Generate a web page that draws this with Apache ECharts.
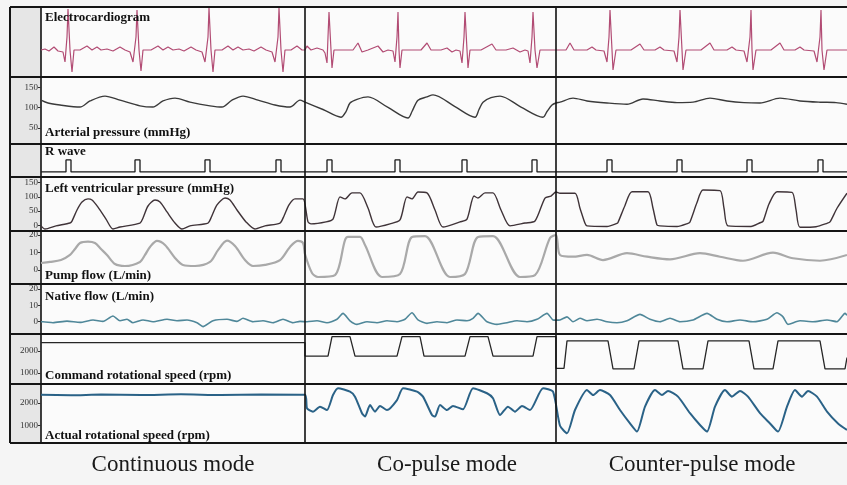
<!DOCTYPE html>
<html><head><meta charset="utf-8">
<script src="https://cdn.jsdelivr.net/npm/echarts@6/dist/echarts.min.js"></script>
<style>html,body{margin:0;padding:0;background:#f5f5f5}#c{width:847px;height:485px}</style>
</head><body><div id="c"></div>
<script>
// ---------- data (time t in sample units, 0..806) ----------
const modes = ['Continuous mode', 'Co-pulse mode', 'Counter-pulse mode'];
const modeBounds = [264, 515];
const tMax = 806;

const rowTitles = ['Electrocardiogram', 'Arterial pressure (mmHg)', 'R wave', 'Left ventricular pressure (mmHg)',
  'Pump flow (L/min)', 'Native flow (L/min)', 'Command rotational speed (rpm)', 'Actual rotational speed (rpm)'];

const apTicks = [50, 100, 150];
const lvpTicks = [0, 50, 100, 150];
const pumpTicks = [0, 10, 20];
const nativeTicks = [0, 10, 20];
const cmdTicks = [1000, 2000];
const actTicks = [1000, 2000];

const ecg = [[0,27],[4,28],[8,26],[13,30],[17,26],[22,25],[24,15],[26,40],[27,68],[29,27],[31,5],[33,27],[39,27],[46,31],[51,27],[56,30],[60,27],[66,28],[72,26],[79,30],[84,27],[89,25],[92,15],[95,40],[96,67],[98,27],[100,6],[102,27],[110,27],[117,31],[122,27],[127,30],[132,27],[138,28],[143,26],[150,30],[155,27],[161,25],[164,15],[167,40],[168,69],[170,27],[172,5],[174,27],[181,27],[187,31],[192,27],[197,30],[202,27],[208,28],[213,26],[220,30],[225,27],[231,25],[234,15],[237,40],[238,69],[240,27],[242,5],[244,27],[250,27],[256,31],[261,27],[264,27],
 [266,31],[270,27],[276,29],[282,27],[284,24],[286,14],[287,40],[288,65],[290,27],[291,9],[293,27],[305,27],[312,27],[317,34],[321,25],[327,27],[337,31],[342,25],[347,27],[352,26],[354,15],[356,40],[357,65],[358,27],[359,9],[361,27],[372,27],[380,27],[386,34],[390,27],[400,27],[406,29],[411,25],[415,27],[419,26],[421,14],[423,40],[424,65],[426,27],[427,9],[429,27],[440,27],[451,33],[455,27],[465,27],[472,29],[479,25],[484,27],[487,26],[489,14],[491,40],[492,65],[494,27],[496,9],[499,27],[510,27],[515,27],
 [522,27],[525,27],[529,34],[533,27],[546,27],[551,30],[555,27],[563,26],[566,15],[568,40],[569,67],[571,27],[572,7],[575,27],[590,27],[599,33],[603,27],[614,27],[619,30],[623,27],[633,26],[636,15],[638,40],[639,67],[641,27],[642,7],[645,27],[660,27],[669,34],[673,27],[686,27],[691,30],[695,27],[703,26],[706,15],[709,40],[710,67],[711,27],[712,7],[715,27],[730,27],[739,34],[743,27],[754,27],[759,30],[763,27],[773,26],[776,15],[779,40],[780,67],[781,27],[783,7],[786,27],[806,27]];

const arterial = [[0,118],[7,111],[19,106],[39,101],[49,116],[64,128],[79,118],[99,104],[112,101],[122,116],[134,123],[149,113],[169,104],[181,101],[191,118],[202,128],[217,118],[234,106],[249,101],[259,118],[264,113],
 [282,95],[300,76],[305,90],[309,111],[316,120],[327,126],[347,100],[367,74],[371,90],[377,118],[386,126],[392,131],[414,102],[434,76],[438,95],[442,113],[450,124],[459,128],[480,101],[502,76],[506,90],[511,106],[515,111],
 [519,113],[532,123],[546,116],[566,111],[586,108],[602,121],[619,116],[636,112],[652,113],[669,123],[686,116],[703,112],[719,111],[739,123],[759,116],[779,113],[795,112],[806,108]];

const rWave = [[0,0],[25,0],[25,1],[30,1],[30,0],[94,0],[94,1],[99,1],[99,0],[164,0],[164,1],[169,1],[169,0],[235,0],[235,1],[240,1],[240,0],[286,0],[286,1],[291,1],[291,0],[354,0],[354,1],[359,1],[359,0],[421,0],[421,1],[426,1],[426,0],[491,0],[491,1],[496,1],[496,0],[566,0],[566,1],[571,1],[571,0],[636,0],[636,1],[641,1],[641,0],[706,0],[706,1],[711,1],[711,0],[777,0],[777,1],[782,1],[782,0],[806,0]];

const lvPressure = [[0,-2],[4,-13],[15,-2],[29,8],[31,15],[36,54],[41,82],[47,93],[51,89],[57,64],[65,22],[72,-13],[79,-6],[99,8],[102,26],[107,68],[114,89],[119,82],[126,47],[134,8],[141,-13],[149,-2],[167,8],[170,26],[176,72],[184,96],[189,89],[196,54],[205,12],[214,-13],[224,-2],[239,8],[243,33],[248,72],[254,93],[262,93],
 [267,12],[270,5],[285,12],[292,22],[299,100],[304,93],[311,114],[319,114],[327,61],[335,-6],[349,5],[359,19],[366,100],[371,93],[377,117],[386,114],[394,54],[402,-6],[419,12],[426,22],[433,103],[437,96],[444,114],[452,114],[460,54],[469,-2],[484,8],[494,15],[504,96],[510,103],[515,117],
 [519,113],[534,113],[539,60],[544,7],[546,-2],[566,-4],[576,7],[577,10],[584,70],[591,118],[607,118],[612,60],[616,1],[619,-2],[636,-4],[647,7],[649,12],[656,80],[662,124],[679,122],[683,60],[687,-2],[710,-4],[719,9],[722,14],[728,75],[736,118],[751,116],[755,55],[759,-7],[775,-5],[786,7],[789,12],[796,60],[806,113]];

const pumpFlow = [[0,4.0],[9,4.6],[20,5.7],[29,8.6],[34,12],[39,15.4],[47,16.2],[54,15.4],[60,12],[66,8.6],[74,3.4],[84,2.3],[99,4.6],[104,8.6],[109,13.2],[116,16.6],[124,14.3],[134,6.9],[142,2.9],[154,2.3],[169,4.6],[177,11.4],[186,16.8],[194,13.7],[204,5.7],[212,2.3],[224,2.9],[239,5.7],[249,13.2],[257,16.6],[262,15.4],
 [264,9],[271,-1.7],[277,-4],[294,-2.9],[304,17.1],[307,18.9],[319,18.9],[324,14.3],[341,-4],[359,-2.3],[371,18.9],[384,19.4],[409,-4],[424,-2.3],[437,18.9],[452,19.4],[479,-4],[494,-2.9],[509,18.3],[515,20],
 [519,8.6],[532,7.6],[546,8.6],[562,5.7],[586,9.6],[606,7.6],[629,6.1],[659,9.6],[679,7.6],[702,5.3],[732,9.9],[752,6.7],[779,5.3],[806,8.6]];

const nativeFlow = [[0,0],[2,0],[12,-0.6],[26,0.4],[39,-0.4],[52,1.1],[62,0.2],[72,3.5],[79,0.6],[86,1.5],[92,-0.6],[102,1.1],[112,0],[126,1.5],[136,0.6],[146,1.1],[156,-0.6],[162,-3.0],[172,0.6],[186,1.5],[196,0.2],[202,2.1],[212,0],[222,0.6],[232,-0.6],[242,1.5],[252,-0.6],[259,0.2],
 [266,0],[276,0.6],[286,-0.6],[296,1.5],[302,5.1],[309,0.6],[316,-1.6],[326,0],[336,-0.6],[346,0.6],[356,0],[364,1.5],[371,5.5],[377,1.1],[386,-1.0],[396,0],[406,-0.6],[416,1.1],[426,0.6],[432,2.1],[437,5.1],[446,0],[456,-1.6],[466,-0.6],[476,0.6],[486,0],[496,1.5],[506,5.1],[512,1.1],[515,1],
 [519,1.1],[526,3.0],[532,0],[539,2.1],[546,0.6],[556,1.5],[566,0],[576,-0.6],[586,0.6],[599,4.5],[609,1.5],[619,0],[629,2.1],[639,0],[652,1.1],[666,5.1],[676,1.5],[686,0],[699,1.1],[712,0],[726,1.5],[736,5.5],[742,3.0],[747,-1.6],[759,0.6],[772,0],[786,1.1],[796,0],[804,5.1],[806,4]];

const commandSpeed = [[0,2380],[264,2380],[264,1770],[287,1770],[291,2650],[309,2650],[314,1770],[356,1770],[361,2650],[379,2650],[383,1770],[424,1770],[429,2650],[447,2650],[452,1770],[492,1770],[496,2650],[515,2650],[515,1210],[523,1210],[526,2460],[567,2460],[572,1190],[593,1190],[598,2460],[637,2460],[642,1190],[662,1190],[667,2460],[708,2460],[713,1190],[732,1190],[737,2460],[779,2460],[784,1190],[804,1190],[806,1700]];

const actualSpeed = [[0,2360],[30,2340],[60,2370],[100,2350],[140,2380],[180,2350],[220,2370],[264,2360],
 [266,1770],[272,1620],[279,1840],[286,1690],[292,2350],[297,2650],[309,2500],[314,2280],[321,1550],[324,1400],[329,1910],[334,1620],[339,1870],[346,1690],[356,2130],[362,2650],[376,2500],[382,2280],[391,1470],[394,1400],[399,1910],[406,1690],[412,1870],[422,1720],[432,2650],[446,2430],[452,2210],[459,1470],[467,1840],[474,1620],[481,1870],[489,1690],[502,2650],[512,2500],
 [519,1000],[526,665],[534,1690],[546,2570],[552,2350],[559,2570],[569,2350],[579,1690],[589,1100],[596,740],[604,1840],[614,2570],[621,2350],[627,2530],[637,2280],[649,1550],[659,1030],[666,740],[674,1840],[684,2570],[691,2280],[699,2530],[707,2280],[719,1550],[729,1100],[737,740],[746,1840],[754,2570],[761,2280],[767,2530],[776,2280],[786,1620],[797,1100],[806,810]];

// ---------- layout / style ----------
const rowTop = [7, 77, 144, 177, 231, 284, 334, 384];
const rowH = [70, 67, 33, 54, 53, 50, 50, 59];
const rowMin = [0, 10, -0.42, -20, -8, -7.5, 500, 238];
const rowMax = [70, 175, 2.33, 170, 22.3, 23.1, 2773, 2837];
const rowTicks = [null, apTicks, null, lvpTicks, pumpTicks, nativeTicks, cmdTicks, actTicks];
const rowData = [ecg, arterial, rWave, lvPressure, pumpFlow, nativeFlow, commandSpeed, actualSpeed];
const rowColor = ['#b24c74', '#3a3a3a', '#1a1a1a', '#3f3338', '#a9a9a9', '#4f8799', '#262626', '#2a6287'];
const rowWidth = [1.2, 1.4, 1.3, 1.4, 2.2, 1.6, 1.3, 2.0];
const rowSmooth = [false, 0.3, false, 0.25, 0.3, 0.2, false, 0.2];
const titleY = [11, 126, 145, 182, 269, 290, 369, 429];
const modeLabelX = [173, 447, 702];

const grid = [], xAxis = [], yAxis = [], series = [], graphic = [];
for (let i = 0; i < 8; i++) {
  grid.push({ left: 41, right: 0, top: rowTop[i], height: rowH[i], show: false });
  xAxis.push({ type: 'value', gridIndex: i, min: 0, max: tMax, show: false });
  const tk = rowTicks[i];
  yAxis.push({
    type: 'value', gridIndex: i, min: rowMin[i], max: rowMax[i],
    axisLine: { show: true, lineStyle: { color: '#111', width: 1.6 } },
    splitLine: { show: false },
    axisTick: tk ? { show: true, length: 3, customValues: tk, lineStyle: { color: '#333' } } : { show: false },
    axisLabel: tk ? { show: true, customValues: tk, formatter: v => String(v), fontSize: 9, fontFamily: 'Liberation Serif', color: '#333', margin: 3 } : { show: false }
  });
  series.push({
    type: 'line', xAxisIndex: i, yAxisIndex: i, data: rowData[i], showSymbol: false, symbol: 'none',
    smooth: rowSmooth[i], lineStyle: { color: rowColor[i], width: rowWidth[i] }, silent: true,
    markLine: {
      silent: true, symbol: 'none', label: { show: false },
      lineStyle: { color: '#111', width: 1.6, type: 'solid' },
      data: modeBounds.map(b => ({ xAxis: b }))
    }
  });
  graphic.push({
    type: 'text', left: 45, top: titleY[i], z: 50,
    style: { text: rowTitles[i], font: 'bold 13px "Liberation Serif"', fill: '#111' }
  });
}
// frame: label column background and separators
graphic.push({ type: 'rect', left: 10, top: 7, z: -10, shape: { width: 31, height: 436 }, style: { fill: '#e6e6e6' } });
graphic.push({ type: 'rect', left: 41, top: 7, z: -10, shape: { width: 806, height: 436 }, style: { fill: '#fbfbfb' } });
const seps = rowTop.concat([443]);
seps.forEach(y => graphic.push({ type: 'line', z: 60, shape: { x1: 10, y1: y, x2: 847, y2: y }, style: { stroke: '#151515', lineWidth: 2 } }));
graphic.push({ type: 'line', z: 60, shape: { x1: 10, y1: 7, x2: 10, y2: 443 }, style: { stroke: '#151515', lineWidth: 2 } });
modes.forEach((m, k) => graphic.push({
  type: 'text', x: modeLabelX[k], y: 465, z: 50,
  style: { text: m, font: '23px "Liberation Serif"', fill: '#1a1a1a', align: 'center', verticalAlign: 'middle' }
}));

const chart = echarts.init(document.getElementById('c'));
chart.setOption({ animation: false, backgroundColor: '#f5f5f5', grid, xAxis, yAxis, series, graphic });
</script></body></html>
